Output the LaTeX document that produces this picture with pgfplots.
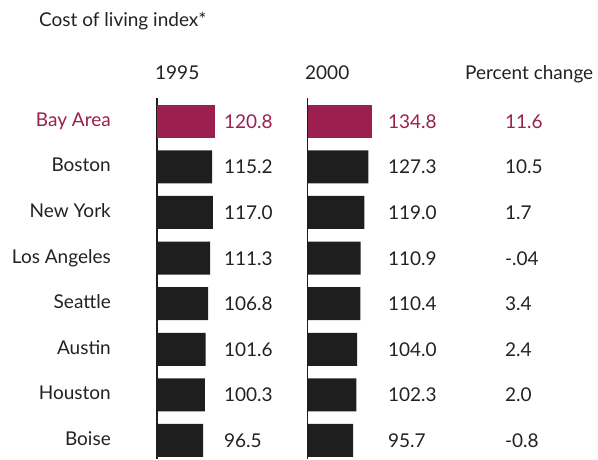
\documentclass[border=0pt]{standalone}
\usepackage{pgfplots}
\pgfplotsset{compat=1.18}
\usepackage{fontspec}
\setmainfont{Lato}
\definecolor{maroon}{HTML}{9B1F4F}
\definecolor{barblack}{HTML}{1E1E1E}
\definecolor{txt}{HTML}{222222}
\newcommand{\myfont}{\fontsize{19}{23}\selectfont}
\pgfplotsset{
  panel/.style={
    x=0.478pt, y=45.6pt, y dir=reverse,
    ymin=-0.51, ymax=7.4,
    axis x line=none, axis y line=left,
    axis line style={-, line width=1.6pt, color=barblack},
    ytick={0,...,7}, major tick length=0pt,
    tick label style={font=\myfont, text=txt},
    clip=false,
  },
  vals/.style={draw=none, mark=none, nodes near coords, point meta=explicit symbolic,
    every node near coord/.append style={anchor=base west, inner sep=0pt, yshift=-7pt, font=\myfont, text=#1}},
}
\pgfplotstableread{
x y label
140 1 115.2
140 2 117.0
140 3 111.3
140 4 106.8
140 5 101.6
140 6 100.3
140 7 96.5
}\valsA
\pgfplotstableread{
x y label
168 1 127.3
168 2 119.0
168 3 110.9
168 4 110.4
168 5 104.0
168 6 102.3
168 7 95.7
}\valsB
\pgfplotstableread{
x y label
413 1 10.5
413 2 1.7
413 3 -.04
413 4 3.4
413 5 2.4
413 6 2.0
413 7 -0.8
}\valsC
\begin{document}
\begin{tikzpicture}[x=1pt,y=1pt]
\useasboundingbox (0,0) rectangle (598,459);
\node[anchor=base west, font=\myfont, text=txt, inner sep=0pt] at (39,432) {Cost of living index*};
\node[anchor=base west, font=\myfont, text=txt, inner sep=0pt] at (155,379) {1995};
\node[anchor=base west, font=\myfont, text=txt, inner sep=0pt] at (305,379) {2000};
\node[anchor=base west, font=\myfont, text=txt, inner sep=0pt] at (465,379) {Percent change};

\begin{axis}[panel, at={(157pt,361pt)}, anchor=north west,
  xmin=0, xmax=150,
  yticklabels={\textcolor{maroon}{Bay Area}, Boston, New York, Los Angeles, Seattle, Austin, Houston, Boise},
  yticklabel style={anchor=base east, inner sep=0pt, xshift=-46pt, yshift=-5pt},
]
\addplot[xbar, bar shift=0pt, bar width=33pt, fill=maroon, draw=none] coordinates {(120.8,0)};
\addplot[xbar, bar shift=0pt, bar width=33pt, fill=barblack, draw=none] coordinates {(115.2,1) (117.0,2) (111.3,3) (106.8,4) (101.6,5) (100.3,6) (96.5,7)};
\addplot[vals=maroon] table[meta=label] {
x y label
140 0 120.8
};
\addplot[vals=txt] table[meta=label] {\valsA};
\end{axis}

\begin{axis}[panel, at={(307.5pt,361pt)}, anchor=north west,
  xmin=0, xmax=450, yticklabels={},
]
\addplot[xbar, bar shift=0pt, bar width=33pt, fill=maroon, draw=none] coordinates {(134.8,0)};
\addplot[xbar, bar shift=0pt, bar width=33pt, fill=barblack, draw=none] coordinates {(127.3,1) (119.0,2) (110.9,3) (110.4,4) (104.0,5) (102.3,6) (95.7,7)};
\addplot[vals=maroon] table[meta=label] {
x y label
168 0 134.8
413 0 11.6
};
\addplot[vals=txt] table[meta=label] {\valsB};
\addplot[vals=txt] table[meta=label] {\valsC};
\end{axis}
\end{tikzpicture}
\end{document}
